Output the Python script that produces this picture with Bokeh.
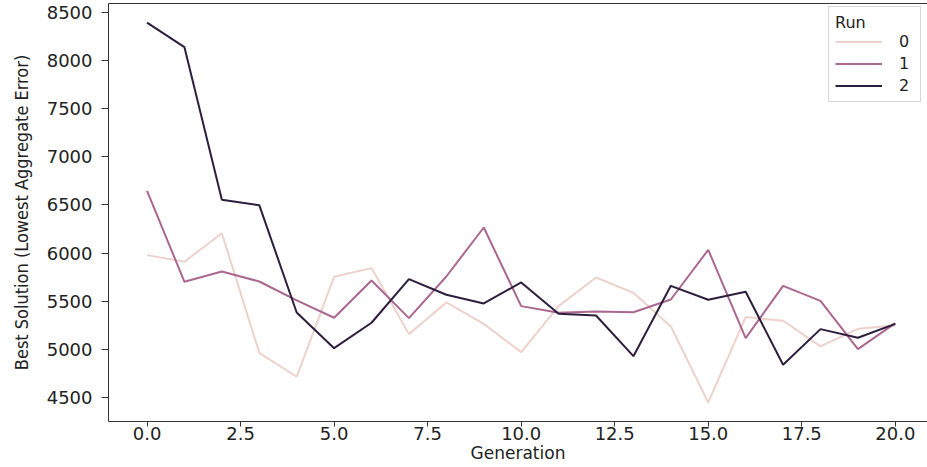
from bokeh.plotting import figure
from bokeh.models import (Range1d, SingleIntervalTicker, FixedTicker, NumeralTickFormatter,
                          LinearAxis, Legend, LegendItem)
from bokeh.embed import file_html
from bokeh.resources import INLINE

generation = list(range(21))
run0 = [5979, 5910, 6207, 4964, 4715, 5754, 5844, 5158, 5487, 5265, 4971,
        5449, 5747, 5587, 5238, 4448, 5335, 5297, 5030, 5213, 5248]
run1 = [6647, 5702, 5809, 5705, 5508, 5328, 5716, 5324, 5757, 6266, 5449,
        5380, 5394, 5386, 5518, 6034, 5116, 5660, 5504, 5002, 5272]
run2 = [8396, 8140, 6554, 6498, 5383, 5012, 5276, 5729, 5567, 5477, 5695,
        5369, 5352, 4929, 5660, 5515, 5598, 4840, 5210, 5120, 5265]
run_labels = ["0", "1", "2"]
run_colors = ["#edd1cb", "#aa678f", "#2d1e3e"]
x_ticks_interval = 2.5
y_ticks = [4500, 5000, 5500, 6000, 6500, 7000, 7500, 8000, 8500]

FONT = "DejaVu Sans"
AX = "#333333"

p = figure(width=927, height=467, output_backend="svg", toolbar_location=None,
           x_range=Range1d(-1.03, 20.86), y_range=Range1d(4250, 8594),
           min_border_left=108, min_border_right=0, min_border_top=3,
           min_border_bottom=46, outline_line_color=None)
p.xgrid.visible = False
p.ygrid.visible = False
p.background_fill_color = "white"

p.xaxis.ticker = SingleIntervalTicker(interval=x_ticks_interval)
p.xaxis.formatter = NumeralTickFormatter(format="0.0")
p.yaxis.ticker = FixedTicker(ticks=y_ticks)
p.yaxis.formatter = NumeralTickFormatter(format="0")

for ax in (p.xaxis[0], p.yaxis[0]):
    ax.axis_line_color = AX
    ax.major_tick_line_color = AX
    ax.minor_tick_line_color = None
    ax.major_tick_in = 0
    ax.major_label_text_font = FONT
    ax.major_label_text_font_size = "18px"
    ax.major_label_text_color = "#222222"
    ax.axis_label_text_font_style = "normal"
    ax.axis_label_text_color = "#222222"

p.xaxis.axis_label = "Generation"
p.xaxis.axis_label_text_font = FONT
p.xaxis.axis_label_text_font_size = "17px"
p.xaxis.major_tick_out = 5
p.xaxis.major_label_standoff = 0
p.xaxis.axis_label_standoff = 0

p.yaxis.axis_label = "Best Solution (Lowest Aggregate Error)"
p.yaxis.axis_label_text_font = "DejaVu Sans Condensed"
p.yaxis.axis_label_text_font_size = "18px"
p.yaxis.major_tick_out = 7
p.yaxis.major_label_standoff = 9
p.yaxis.axis_label_standoff = 12

top = LinearAxis(ticker=FixedTicker(ticks=[]), axis_line_color=AX,
                 major_tick_out=0, minor_tick_out=0, major_label_standoff=0,
                 major_label_text_font_size="0px")
p.add_layout(top, "above")

items = []
for lab, col, ys in zip(run_labels, run_colors, [run0, run1, run2]):
    r = p.line(generation, ys, line_color=col, line_width=2)
    items.append(LegendItem(label=lab, renderers=[r]))

legend = Legend(items=items, title="Run", location=(720, 319),
                title_text_font=FONT, title_text_font_size="16px",
                title_text_font_style="normal", title_standoff=0,
                label_text_font=FONT, label_text_font_size="16px",
                label_text_color="#222222", title_text_color="#222222",
                glyph_width=47, glyph_height=19, label_height=19,
                label_width=15, label_standoff=17, spacing=3, padding=6,
                border_line_color="#cccccc", border_line_alpha=0.8,
                background_fill_color="white", background_fill_alpha=0.8)
p.add_layout(legend, "center")

open("out.html", "w").write(file_html(p, INLINE))
